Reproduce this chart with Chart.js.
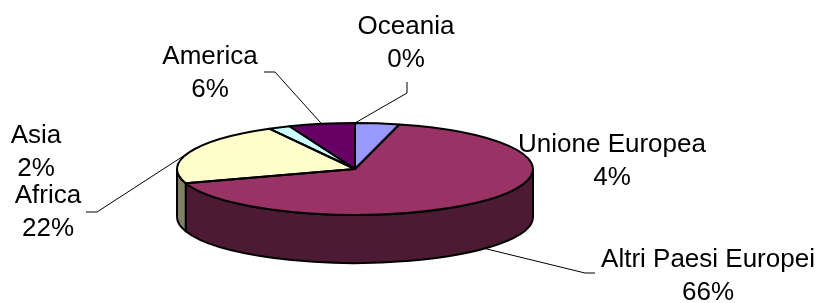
<!DOCTYPE html>
<html>
<head>
<meta charset="utf-8">
<script src="https://cdn.jsdelivr.net/npm/chart.js"></script>
<style>
  html, body { margin: 0; padding: 0; background: #fff; }
</style>
</head>
<body>
<canvas id="pie" width="823" height="303"></canvas>
<script>
// Data
const regions = ['Unione Europea', 'Altri Paesi Europei', 'Africa', 'Asia', 'America', 'Oceania'];
const shares = [4, 66, 22, 2, 6, 0];
const topColors = ['#9999FF', '#993366', '#FFFFCC', '#CCFFFF', '#660066', '#FF8080'];

// 3D look: ellipse radii of the top face and thickness of the disc
const RX = 178, RY = 46, DEPTH = 48;

// label layout: centre x, first baseline, leader polyline (label end first)
const labelPos = [
  { x: 612, y: 152 },
  { x: 708, y: 267, lead: [[595, 273], [585, 273]] },
  { x: 48, y: 203, lead: [[86, 212], [97, 212]] },
  { x: 36, y: 143 },
  { x: 210, y: 64, lead: [[264, 72], [275, 72]] },
  { x: 406, y: 34, lead: [[407, 82], [407, 93]] }
];
const LINE_H = 33;

function darker(hex) {
  const n = parseInt(hex.slice(1), 16);
  const r = (n >> 16) & 255, g = (n >> 8) & 255, b = n & 255;
  return 'rgb(' + Math.round(r / 2) + ',' + Math.round(g / 2) + ',' + Math.round(b / 2) + ')';
}

const pie3d = {
  id: 'pie3d',
  beforeDatasetsDraw(chart) {
    const ctx = chart.ctx;
    const arcs = chart.getDatasetMeta(0).data;
    const cx = arcs[0].x, cy = arcs[0].y;

    // visible side wall (front half, angles 0..PI)
    ctx.save();
    ctx.lineWidth = 2;
    ctx.strokeStyle = '#000';
    ctx.lineJoin = 'round';
    arcs.forEach((arc, i) => {
      const a = Math.max(arc.startAngle, 0);
      const b = Math.min(arc.endAngle, Math.PI);
      if (b <= a) return;
      ctx.beginPath();
      ctx.ellipse(cx, cy, RX, RY, 0, a, b);
      ctx.ellipse(cx, cy + DEPTH, RX, RY, 0, b, a, true);
      ctx.closePath();
      ctx.fillStyle = darker(topColors[i]);
      ctx.fill();
      ctx.stroke();
    });
    ctx.restore();

    // squash the library's round pie into the elliptic top face
    const r = arcs[0].outerRadius;
    ctx.save();
    ctx.translate(cx, cy);
    ctx.scale(RX / r, RY / r);
    ctx.translate(-cx, -cy);
  },
  afterDatasetsDraw(chart) {
    const ctx = chart.ctx;
    ctx.restore();
    const arcs = chart.getDatasetMeta(0).data;
    const cx = arcs[0].x, cy = arcs[0].y;

    // slice outlines on the top face
    ctx.save();
    ctx.lineWidth = 2;
    ctx.strokeStyle = '#000';
    ctx.lineJoin = 'round';
    arcs.forEach(arc => {
      if (arc.endAngle <= arc.startAngle) return;
      ctx.beginPath();
      ctx.moveTo(cx, cy);
      ctx.ellipse(cx, cy, RX, RY, 0, arc.startAngle, arc.endAngle);
      ctx.closePath();
      ctx.stroke();
    });
    ctx.restore();
  },
  afterDraw(chart) {
    const ctx = chart.ctx;
    const arcs = chart.getDatasetMeta(0).data;
    const cx = arcs[0].x, cy = arcs[0].y;
    const total = shares.reduce((s, v) => s + v, 0);

    ctx.save();
    ctx.font = '26px "Liberation Sans", Arial, sans-serif';
    ctx.fillStyle = '#000';
    ctx.textAlign = 'center';
    ctx.textBaseline = 'alphabetic';
    arcs.forEach((arc, i) => {
      const p = labelPos[i];
      ctx.fillText(regions[i], p.x, p.y);
      ctx.fillText(Math.round(shares[i] / total * 100) + '%', p.x, p.y + LINE_H);

      if (!p.lead) return;
      const mid = (arc.startAngle + arc.endAngle) / 2;
      const s = Math.sin(mid);
      const ax = cx + RX * Math.cos(mid);
      const ay = cy + RY * s + (s > 0 ? DEPTH : 0);
      ctx.beginPath();
      ctx.lineWidth = 1;
      ctx.strokeStyle = '#000';
      ctx.moveTo(p.lead[0][0], p.lead[0][1]);
      for (let k = 1; k < p.lead.length; k++) ctx.lineTo(p.lead[k][0], p.lead[k][1]);
      ctx.lineTo(ax, ay);
      ctx.stroke();
    });
    ctx.restore();
  }
};

new Chart(document.getElementById('pie'), {
  type: 'pie',
  data: {
    labels: regions,
    datasets: [{
      data: shares,
      backgroundColor: topColors,
      borderWidth: 0,
      hoverOffset: 0
    }]
  },
  options: {
    responsive: false,
    animation: false,
    events: [],
    layout: { padding: { left: 225, right: 338, top: 39, bottom: 4 } },
    plugins: {
      legend: { display: false },
      tooltip: { enabled: false }
    }
  },
  plugins: [pie3d]
});
</script>
</body>
</html>
